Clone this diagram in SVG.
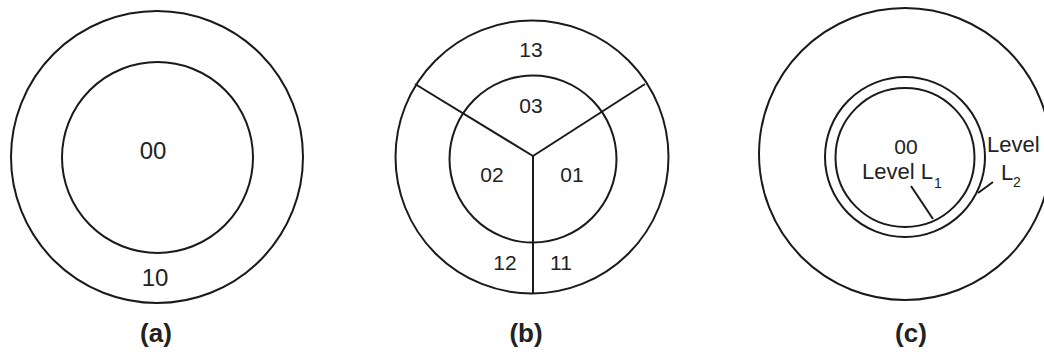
<svg xmlns="http://www.w3.org/2000/svg" width="1044" height="353" viewBox="0 0 1044 353">
<style>
.ring{fill:none;stroke:#1a1a1a;stroke-width:2}
.ln{stroke:#1a1a1a;stroke-width:2;fill:none}
.lbl{font-family:"Liberation Sans",Arial,sans-serif;fill:#222;text-anchor:middle}
.a{font-size:24px}
.b{font-size:21px}
.c{font-size:22px;text-anchor:start}
.cap{font-family:"Liberation Sans",Arial,sans-serif;font-weight:bold;font-size:26px;fill:#222;text-anchor:middle}
.sub{font-size:14px;text-anchor:start}
</style>
<rect width="1044" height="353" fill="#fff"/>
<g id="fig-a">
  <circle class="ring" cx="157" cy="157" r="146"/>
  <circle class="ring" cx="157.5" cy="157.5" r="95.5"/>
  <text class="lbl a" x="153" y="159">00</text>
  <text class="lbl a" x="155" y="286">10</text>
  <text class="cap" x="156" y="342">(a)</text>
</g>
<g id="fig-b">
  <circle class="ring" cx="532" cy="157" r="136.5"/>
  <circle class="ring" cx="533" cy="159" r="83.5"/>
  <text class="lbl b" x="531" y="57">13</text>
  <text class="lbl b" x="531" y="113">03</text>
  <text class="lbl b" x="492" y="182">02</text>
  <text class="lbl b" x="572" y="182">01</text>
  <text class="lbl b" x="505" y="270">12</text>
  <text class="lbl b" x="561" y="270">11</text>
  <text class="cap" x="526" y="342">(b)</text>
</g>
<g id="fig-c">
  <circle class="ring" cx="905" cy="154" r="146"/>
  <circle class="ring" cx="905" cy="157" r="80"/>
  <circle class="ring" cx="905" cy="157.5" r="69.5"/>
  <text class="lbl b" x="906" y="154">00</text>
  <text class="lbl c" x="862" y="179">Level L</text>
  <text class="lbl sub" x="934" y="188">1</text>
  <text class="lbl c" x="987" y="152">Level</text>
  <text class="lbl c" x="1001" y="180">L</text>
  <text class="lbl sub" x="1013" y="187">2</text>
  <text class="cap" x="911" y="342">(c)</text>
</g>
<g id="connectors">
  <line class="ln" x1="533" y1="156" x2="415" y2="84"/>
  <line class="ln" x1="533" y1="156" x2="645" y2="84"/>
  <line class="ln" x1="533" y1="156" x2="533" y2="293"/>
  <line class="ln" x1="911" y1="186" x2="933" y2="219"/>
  <line class="ln" x1="993" y1="182" x2="978" y2="193"/>
</g>
</svg>
